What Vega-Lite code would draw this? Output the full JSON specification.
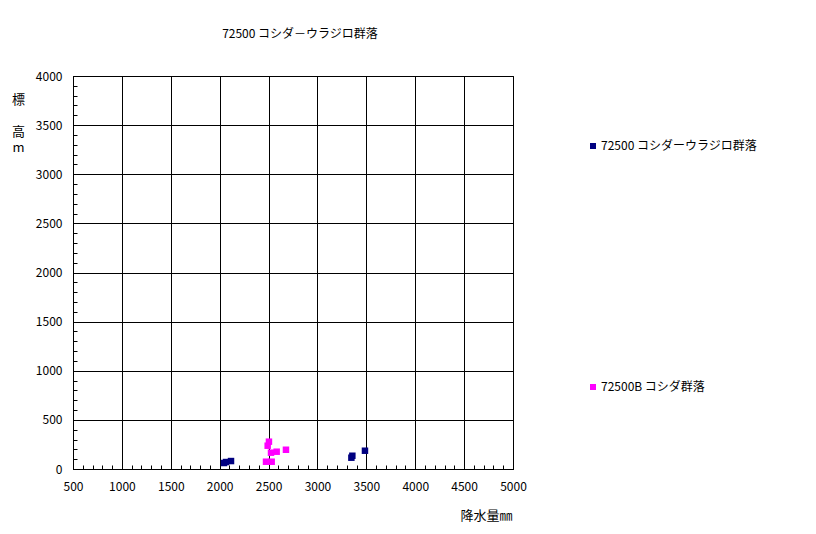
{
  "$schema": "https://vega.github.io/schema/vega-lite/v6.json",
  "width": 440,
  "height": 393,
  "autosize": "none",
  "padding": {"left": 73, "top": 76, "right": 303, "bottom": 65},
  "background": "white",
  "title": {
    "text": "72500 コシダ－ウラジロ群落",
    "font": "Noto Sans CJK JP",
    "fontSize": 12,
    "fontWeight": "normal",
    "color": "black",
    "anchor": "middle",
    "dx": 7,
    "offset": 29
  },
  "config": {
    "view": {"stroke": "black", "strokeWidth": 1},
    "font": "Noto Sans CJK JP"
  },
  "data": {
    "values": [
      {"series": "72500 コシダーウラジロ群落", "rain": 2044, "elev": 61},
      {"series": "72500 コシダーウラジロ群落", "rain": 2065, "elev": 71},
      {"series": "72500 コシダーウラジロ群落", "rain": 2116, "elev": 81},
      {"series": "72500 コシダーウラジロ群落", "rain": 3347, "elev": 115},
      {"series": "72500 コシダーウラジロ群落", "rain": 3357, "elev": 135},
      {"series": "72500 コシダーウラジロ群落", "rain": 3486, "elev": 186},
      {"series": "72500B コシダ群落", "rain": 2504, "elev": 278},
      {"series": "72500B コシダ群落", "rain": 2491, "elev": 237},
      {"series": "72500B コシダ群落", "rain": 2525, "elev": 166},
      {"series": "72500B コシダ群落", "rain": 2583, "elev": 176},
      {"series": "72500B コシダ群落", "rain": 2678, "elev": 196},
      {"series": "72500B コシダ群落", "rain": 2474, "elev": 74},
      {"series": "72500B コシダ群落", "rain": 2532, "elev": 74}
    ]
  },
  "mark": {"type": "point", "shape": "square", "filled": true, "size": 42, "opacity": 1, "strokeWidth": 0},
  "encoding": {
    "x": {
      "field": "rain",
      "type": "quantitative",
      "scale": {"domain": [500, 5000], "nice": false, "zero": false},
      "axis": {
        "title": "降水量㎜",
        "titleFont": "Noto Sans CJK JP",
        "titleFontSize": 13,
        "titleFontWeight": "normal",
        "titleColor": "black",
        "titleX": 439,
        "titleY": 46,
        "titleAlign": "right",
        "titleBaseline": "middle",
        "values": [500,600,700,800,900,1000,1100,1200,1300,1400,1500,1600,1700,1800,1900,2000,2100,2200,2300,2400,2500,2600,2700,2800,2900,3000,3100,3200,3300,3400,3500,3600,3700,3800,3900,4000,4100,4200,4300,4400,4500,4600,4700,4800,4900,5000],
        "labelExpr": "datum.value % 500 === 0 ? datum.label : ''",
        "format": "d",
        "labelOverlap": false,
        "labelFlush": false,
        "labelFont": "Noto Sans CJK JP",
        "labelFontSize": 12,
        "labelColor": "black",
        "labelPadding": 16,
        "tickSize": -4,
        "tickColor": "black",
        "domainColor": "black",
        "grid": true,
        "gridColor": "black",
        "gridOpacity": {"condition": {"test": "datum.value % 500 === 0", "value": 1}, "value": 0}
      }
    },
    "y": {
      "field": "elev",
      "type": "quantitative",
      "scale": {"domain": [0, 4000], "nice": false},
      "axis": {
        "title": ["標", "\u200b", "高", "m"],
        "titleFont": "Noto Sans CJK JP",
        "titleFontSize": 13,
        "titleFontWeight": "normal",
        "titleColor": "black",
        "titleAngle": 0,
        "titleX": -55,
        "titleY": 17,
        "titleAlign": "center",
        "titleBaseline": "top",
        "titleLineHeight": 16,
        "values": [0,100,200,300,400,500,600,700,800,900,1000,1100,1200,1300,1400,1500,1600,1700,1800,1900,2000,2100,2200,2300,2400,2500,2600,2700,2800,2900,3000,3100,3200,3300,3400,3500,3600,3700,3800,3900,4000],
        "labelExpr": "datum.value % 500 === 0 ? datum.label : ''",
        "format": "d",
        "labelOverlap": false,
        "labelFlush": false,
        "labelFont": "Noto Sans CJK JP",
        "labelFontSize": 12,
        "labelColor": "black",
        "labelPadding": 15,
        "tickSize": -4,
        "tickColor": "black",
        "domainColor": "black",
        "grid": true,
        "gridColor": "black",
        "gridOpacity": {"condition": {"test": "datum.value % 500 === 0", "value": 1}, "value": 0}
      }
    },
    "color": {
      "field": "series",
      "type": "nominal",
      "scale": {"domain": ["72500 コシダーウラジロ群落", "72500B コシダ群落"], "range": ["#000080", "#ff00ff"]},
      "legend": {
        "title": null,
        "orient": "none",
        "legendX": 514,
        "legendY": 64,
        "padding": 0,
        "symbolType": "square",
        "symbolSize": 36,
        "symbolStrokeWidth": 0,
        "labelFont": "Noto Sans CJK JP",
        "labelFontSize": 12,
        "labelColor": "black",
        "labelOffset": 2,
        "rowPadding": 229
      }
    }
  }
}
